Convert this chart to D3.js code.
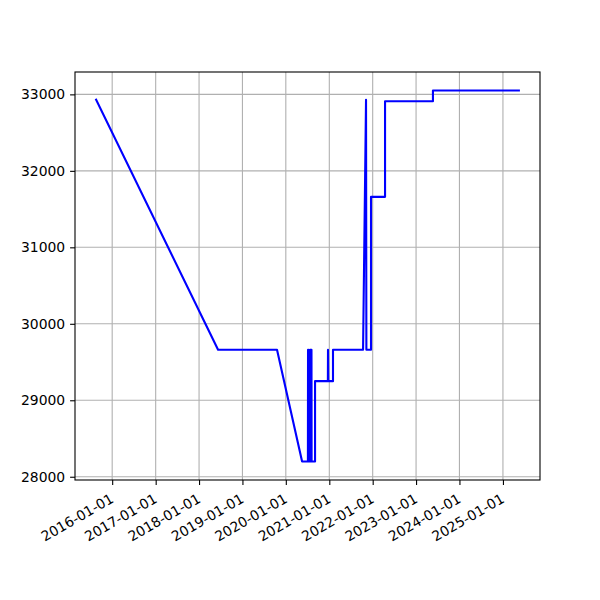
<!DOCTYPE html>
<html><head><meta charset="utf-8">
<script src="https://cdn.jsdelivr.net/npm/d3@7"></script>
<style>body{margin:0;background:#fff}svg{display:block}text{font-family:"DejaVu Sans",sans-serif;font-size:13.9px;fill:#000}</style>
</head><body>
<script>
const dates = ["2015-08-19","2018-06-10","2019-10-19","2020-05-17","2020-07-05","2020-07-06","2020-07-09","2020-07-10","2020-07-22","2020-07-23","2020-07-26","2020-07-27","2020-07-31","2020-08-01","2020-08-04","2020-08-05","2020-09-03","2020-09-03","2020-12-20","2020-12-21","2020-12-23","2021-02-01","2021-02-01","2021-10-12","2021-11-06","2021-11-09","2021-12-18","2021-12-18","2022-04-15","2022-04-15","2023-05-23","2023-05-23","2025-05-15"];
const values = [32930,29660,29660,28200,28200,29660,29660,28200,28200,29660,29660,28200,28200,29660,29660,28200,28200,29250,29250,29660,29250,29250,29660,29660,32930,29660,29660,31660,31660,32910,32910,33050,33050];
const yTicks = [28000,29000,30000,31000,32000,33000];
const xTickYears = [2016,2017,2018,2019,2020,2021,2022,2023,2024,2025];

const W=600,H=600, L=75, R=540, T=72, B=480;
const parse = d3.utcParse("%Y-%m-%d");
const data = dates.map((d,i)=>({t:parse(d), v:values[i]}));
const tExt = d3.extent(data,d=>d.t), vExt = d3.extent(data,d=>d.v);
const tm = (tExt[1]-tExt[0])*0.05, vm=(vExt[1]-vExt[0])*0.05;
const x = d3.scaleUtc().domain([new Date(+tExt[0]-tm), new Date(+tExt[1]+tm)]).range([L,R]);
const y = d3.scaleLinear().domain([vExt[0]-vm, vExt[1]+vm]).range([B,T]);
const xTicks = xTickYears.map(yr=>new Date(Date.UTC(yr,0,1)));

const svg = d3.select("body").append("svg").attr("width",W).attr("height",H);
const g = svg.append("g");
// grid
g.selectAll(".gx").data(xTicks).join("line").attr("x1",d=>x(d)).attr("x2",d=>x(d)).attr("y1",T).attr("y2",B).attr("stroke","#b0b0b0").attr("stroke-width",1.1);
g.selectAll(".gy").data(yTicks).join("line").attr("y1",d=>y(d)).attr("y2",d=>y(d)).attr("x1",L).attr("x2",R).attr("stroke","#b0b0b0").attr("stroke-width",1.1);
// line
g.append("path").datum(data).attr("fill","none").attr("stroke","#0000ff").attr("stroke-width",2.1)
 .attr("stroke-linejoin","round").attr("stroke-linecap","square")
 .attr("d",d3.line().x(d=>x(d.t)).y(d=>y(d.v)));
// axes
const xa = d3.axisBottom(x).tickValues(xTicks).tickSize(4.9).tickPadding(4.9).tickFormat(d3.utcFormat("%Y-%m-%d"));
const xg = svg.append("g").attr("transform",`translate(0,${B})`).call(xa);
xg.select(".domain").remove();
xg.selectAll(".tick line").attr("stroke","#000").attr("stroke-width",1.1);
xg.selectAll(".tick text").attr("font-size",null).attr("y",null).attr("dy",null)
  .attr("text-anchor","end").attr("transform","translate(0,18) rotate(-30)").attr("dominant-baseline","middle");
const ya = d3.axisLeft(y).tickValues(yTicks).tickSize(4.9).tickPadding(4.9).tickFormat(d3.format("d"));
const yg = svg.append("g").attr("transform",`translate(${L},0)`).call(ya);
yg.select(".domain").remove();
yg.selectAll(".tick line").attr("stroke","#000").attr("stroke-width",1.1);
yg.selectAll(".tick text").attr("font-size",null);
svg.selectAll(".tick text").attr("font-family",null);
svg.append("rect").attr("x",L).attr("y",T).attr("width",R-L).attr("height",B-T).attr("fill","none").attr("stroke","#000").attr("stroke-width",1.1);
</script>
</body></html>
